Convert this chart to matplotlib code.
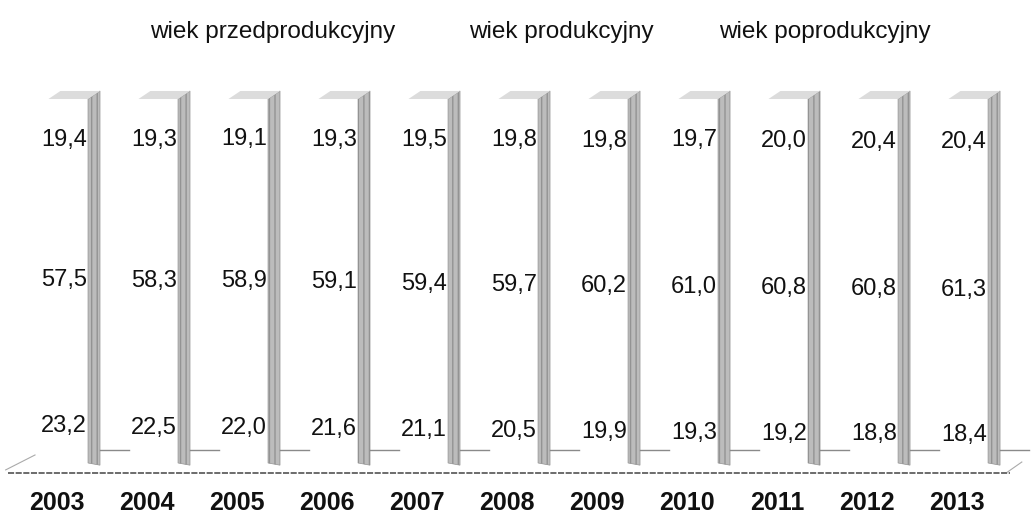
from matplotlib import pyplot as plt
from matplotlib.patches import Polygon
import numpy as np

years = ["2003", "2004", "2005", "2006", "2007", "2008", "2009", "2010", "2011", "2012", "2013"]
series_names = ["wiek przedprodukcyjny", "wiek produkcyjny", "wiek poprodukcyjny"]
przed = [23.2, 22.5, 22.0, 21.6, 21.1, 20.5, 19.9, 19.3, 19.2, 18.8, 18.4]
prod = [57.5, 58.3, 58.9, 59.1, 59.4, 59.7, 60.2, 61.0, 60.8, 60.8, 61.3]
popr = [19.4, 19.3, 19.1, 19.3, 19.5, 19.8, 19.8, 19.7, 20.0, 20.4, 20.4]

plt.rcParams['font.family'] = ['Liberation Sans', 'DejaVu Sans']
txt = '#111111'

fig = plt.figure(figsize=(10.31, 5.13), dpi=100)
ax = fig.add_axes([0, 0, 1, 1])
ax.set_xlim(-0.633, 10.822)
ax.set_ylim(-13.74, 127.2)
ax.axis('off')

x = np.arange(len(years))
w = 0.69
dx, dy = 0.133, 2.2

# 100% stacked: scale each column to its total
total = np.array(przed) + np.array(prod) + np.array(popr)
bottom = np.zeros(len(years))
for vals in [przed, prod, popr]:
    vals = np.array(vals)
    h = vals / total * 100
    ax.bar(x, h, width=w, bottom=bottom, color='white', edgecolor='none', zorder=2)
    for xi, b, hv, v in zip(x, bottom, h, vals):
        ax.text(xi + w / 2 - 0.01, b + hv / 2 - 1.5, f"{v:.1f}".replace('.', ','),
                ha='right', va='center', fontsize=17, color=txt, zorder=5)
    bottom += h

# 3D side and top faces
for xi, t in zip(x, bottom):
    r = xi + w / 2
    l = xi - w / 2
    side = Polygon([(r, 0), (r + dx, dy - 2.8), (r + dx, t + dy), (r, t)], closed=True,
                   facecolor='#bcbcbc', edgecolor='#939393', hatch='|||', lw=0.5, zorder=3)
    ax.add_patch(side)
    top = Polygon([(l + 0.25, t), (r, t), (r + dx, t + dy), (l + 0.25 + dx, t + dy)], closed=True,
                  facecolor='#dcdcdc', edgecolor='none', zorder=3)
    ax.add_patch(top)
    ax.plot([r + dx, r + 0.45], [3.6, 3.6], color='#8a8a8a', lw=1, zorder=3)

# floor
ax.plot([-0.544, 10.59], [-2.75, -2.75], color='#444444', lw=1.1, ls=(0, (4, 1)), zorder=1)
ax.plot([-0.57, -0.244], [-1.9, 2.2], color='#aaaaaa', lw=0.8)
ax.plot([10.56, 10.72], [-2.5, 0.27], color='#aaaaaa', lw=0.8)

for xi, yr in zip(x, years):
    ax.text(xi, -11, yr, ha='center', va='center', fontsize=18, fontweight='bold', color=txt)

for name, cx in zip(series_names, [273, 561, 825]):
    fig.text(cx / 1031, 1 - 38 / 513, name, ha='center', va='baseline', fontsize=17.5, color=txt)

fig.savefig("out.png", dpi=100)
